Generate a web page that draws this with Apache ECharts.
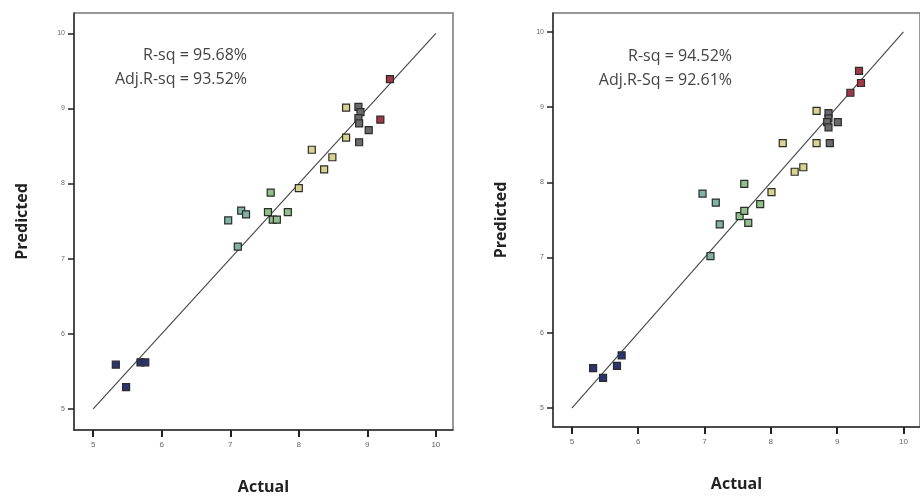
<!DOCTYPE html>
<html>
<head>
<meta charset="utf-8">
<script src="https://cdn.jsdelivr.net/npm/echarts@6/dist/echarts.min.js"></script>
<style>html,body{margin:0;padding:0;background:#fff;}#c{width:920px;height:500px;}</style>
</head>
<body>
<div id="c"></div>
<script>
// ---- data ----
var refLine = [5, 10];

var leftActual = [5.33, 5.48, 5.69, 5.76, 6.97, 7.11, 7.16, 7.23, 7.55, 7.59, 7.62, 7.68, 7.84, 8.00, 8.19, 8.37, 8.49, 8.69, 8.88, 8.69, 8.87, 8.90, 8.87, 8.88, 9.02, 9.19, 9.33];
var leftPredicted = [5.59, 5.29, 5.62, 5.62, 7.51, 7.16, 7.64, 7.59, 7.62, 7.88, 7.52, 7.52, 7.62, 7.94, 8.45, 8.19, 8.35, 8.61, 8.55, 9.01, 9.02, 8.95, 8.87, 8.80, 8.71, 8.85, 9.39];

var rightActual = [5.32, 5.47, 5.68, 5.75, 6.97, 7.09, 7.17, 7.23, 7.53, 7.60, 7.60, 7.66, 7.84, 8.01, 8.18, 8.36, 8.49, 8.69, 8.89, 8.69, 8.87, 8.87, 8.85, 8.87, 9.01, 9.20, 9.36, 9.33];
var rightPredicted = [5.53, 5.40, 5.56, 5.70, 7.85, 7.02, 7.73, 7.44, 7.55, 7.62, 7.98, 7.46, 7.71, 7.87, 8.52, 8.14, 8.20, 8.52, 8.52, 8.95, 8.92, 8.85, 8.80, 8.73, 8.80, 9.19, 9.32, 9.48];

var leftStats = ['R-sq = 95.68%', 'Adj.R-sq = 93.52%'];
var rightStats = ['R-sq = 94.52%', 'Adj.R-Sq = 92.61%'];
var xName = 'Actual';
var yName = 'Predicted';

function pairs(xs, ys) { return xs.map(function (v, i) { return [v, ys[i]]; }); }

var chart = echarts.init(document.getElementById('c'));

function axis(gi, min, max, isY) {
  return {
    type: 'value', gridIndex: gi, min: min, max: max,
    splitLine: {show: false},
    axisLine: {show: true, onZero: false, lineStyle: {color: '#333', width: 1.5}},
    axisTick: {show: true, inside: false, length: isY ? 6 : 7, lineStyle: {color: '#222', width: isY ? 1.5 : 2}},
    axisLabel: {showMinLabel: false, showMaxLabel: false, fontSize: isY ? 7 : 8, color: '#666', margin: isY ? 9 : 11},
    name: isY ? yName : xName, nameLocation: 'middle', nameGap: isY ? 44 : 49,
    nameTextStyle: {fontSize: 16, fontWeight: 'bold', color: '#222', fontFamily: 'Open Sans'}
  };
}
function scatter(gi, data) {
  return {
    type: 'scatter', xAxisIndex: gi, yAxisIndex: gi, data: data,
    symbol: 'rect', symbolSize: 7, z: 3,
    itemStyle: {borderColor: '#2b2b2b', borderWidth: 1.2, opacity: 1}
  };
}
function diag(gi) {
  return {
    type: 'line', xAxisIndex: gi, yAxisIndex: gi,
    data: [[refLine[0], refLine[0]], [refLine[1], refLine[1]]],
    symbol: 'none', lineStyle: {color: '#444', width: 1.1}, z: 2, silent: true
  };
}

var textStyle = {fontSize: 16, fill: '#444', fontFamily: 'Open Sans', align: 'right'};

var option = {
  animation: false,
  grid: [
    {left: 74, top: 13, width: 379, height: 417, show: true, borderColor: '#777', borderWidth: 1.5},
    {left: 553, top: 13, width: 375, height: 414, show: true, borderColor: '#777', borderWidth: 1.5}
  ],
  xAxis: [axis(0, 4.72, 10.25, false), axis(1, 4.715, 10.25, false)],
  yAxis: [axis(0, 4.72, 10.27, true), axis(1, 4.748, 10.25, true)],
  visualMap: {
    type: 'piecewise', show: false, dimension: 0, seriesIndex: [1, 3],
    pieces: [
      {lt: 6.5, color: '#2a3470'},
      {gte: 6.5, lt: 7.4, color: '#7fb3a6'},
      {gte: 7.4, lt: 7.95, color: '#8fc08a'},
      {gte: 7.95, lt: 8.75, color: '#d8d48e'},
      {gte: 8.75, lt: 9.1, color: '#6a6a6a'},
      {gte: 9.1, color: '#a03848'}
    ]
  },
  series: [
    diag(0), scatter(0, pairs(leftActual, leftPredicted)),
    diag(1), scatter(1, pairs(rightActual, rightPredicted))
  ],
  graphic: [
    {type: 'text', right: 920 - 247, top: 47, style: Object.assign({text: leftStats[0]}, textStyle)},
    {type: 'text', right: 920 - 247, top: 71, style: Object.assign({text: leftStats[1]}, textStyle)},
    {type: 'text', right: 920 - 732, top: 48, style: Object.assign({text: rightStats[0]}, textStyle)},
    {type: 'text', right: 920 - 732, top: 72, style: Object.assign({text: rightStats[1]}, textStyle)}
  ]
};
chart.setOption(option);
</script>
</body>
</html>
